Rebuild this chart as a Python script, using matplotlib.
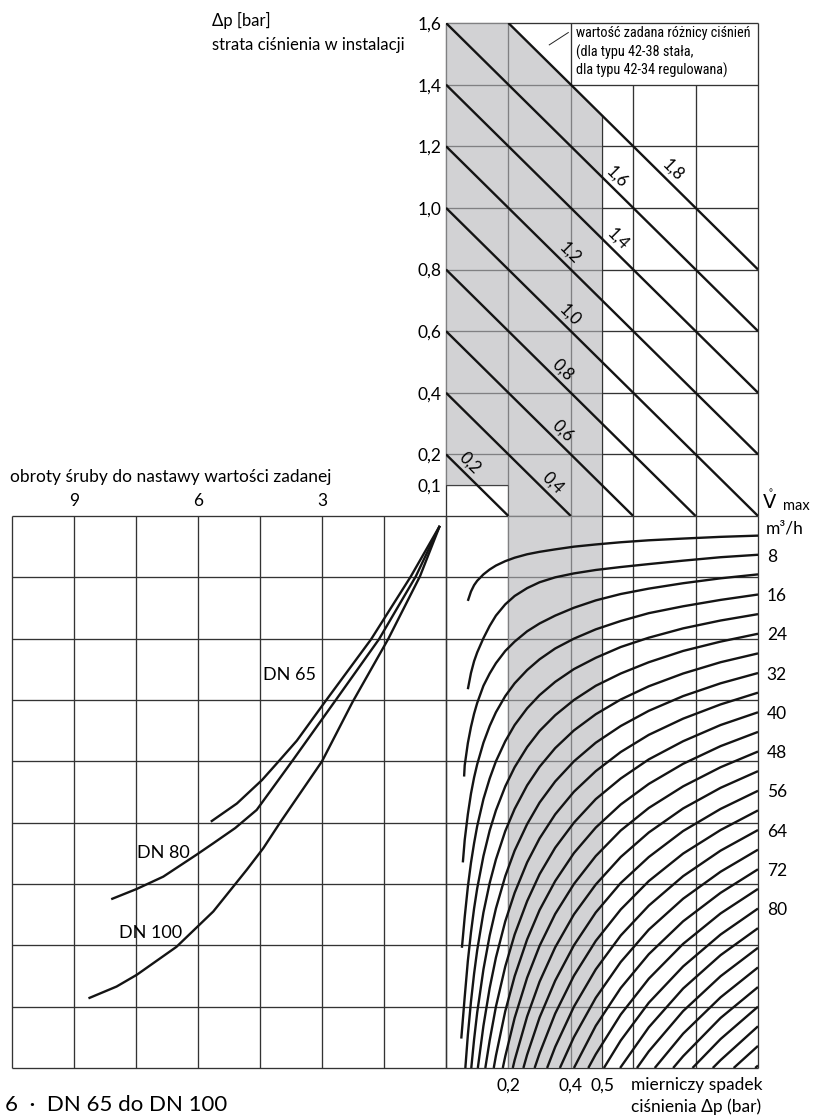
import matplotlib.pyplot as plt
from matplotlib import font_manager
from matplotlib.font_manager import FontProperties

plt.rcParams['font.family'] = ['Lato', 'DejaVu Sans']
plt.rcParams['mathtext.fontset'] = 'dejavusans'

# top panel: pressure loss in the installation [bar] vs metering drop [bar]
inst_ticks = [0.1, 0.2, 0.4, 0.6, 0.8, 1.0, 1.2, 1.4, 1.6]
inst_grid = [0.2, 0.4, 0.6, 0.8, 1.0, 1.2, 1.4]
setpoints = [0.2, 0.4, 0.6, 0.8, 1.0, 1.2, 1.4, 1.6, 1.8]
setpoint_label_dp = [0.052, 0.318, 0.35, 0.35, 0.372, 0.372, 0.526, 0.523, 0.703]
meter_grid = [0.0, 0.2, 0.4, 0.5, 0.6, 0.8, 1.0]
meter_ticks = [0.2, 0.4, 0.5]
shade_band = (0.2, 0.5)
shade_floor = 0.1

# lower right panel: flow curves V max [m3/h]
flow_q = [4, 8, 12, 16, 20, 24, 28, 32, 36, 40, 44, 48, 52, 56,
          60, 64, 68, 72, 76, 80, 84, 88, 92, 96, 100, 104, 108, 112]
flow_labels = [8, 16, 24, 32, 40, 48, 56, 64, 72, 80]
kv_grid = [0, 12.5, 25, 37.5, 50, 62.5, 75, 87.5, 100, 112.5]
dp_grid = [0.05, 0.06, 0.07, 0.08, 0.09, 0.10, 0.12, 0.14, 0.16, 0.19, 0.22,
           0.26, 0.30, 0.35, 0.41, 0.48, 0.56, 0.65, 0.76, 0.88, 1.00]
curve_start_dp = [0.07, 0.07, 0.058, 0.054, 0.051, 0.049, 0.062, 0.081, 0.102,
                  0.126, 0.153, 0.182, 0.214, 0.248, 0.284, 0.324, 0.365, 0.410,
                  0.456, 0.506, 0.558, 0.612, 0.669, 0.728, 0.790, 0.855, 0.922, 0.991]
curve_start_kv = [17.3, 35.3, 53.1, 70.6, 88.0, 106.5] + [112.5] * 22
# values at the last len(row) points of dp_grid
curve_kv = [
    [15.4, 14.1, 13.2, 11.9, 10.9, 10.1, 9.2, 8.5, 7.8, 7.3, 6.8, 6.25, 5.8, 5.35, 4.95, 4.6, 4.25, 4.0],
    [32.0, 29.6, 27.8, 24.9, 22.4, 20.3, 18.0, 16.3, 14.7, 13.5, 12.5, 11.7, 11.0, 10.4, 9.8, 9.1, 8.4, 7.9],
    [50.8, 46.3, 43.0, 40.3, 38.1, 34.6, 32.1, 30.0, 27.5, 25.6, 23.5, 21.9, 20.3, 18.7, 17.2, 15.9, 14.8, 13.7, 12.7, 11.9],
    [66.0, 60.8, 56.6, 53.3, 50.6, 46.2, 42.8, 40.0, 36.7, 34.1, 31.4, 29.2, 27.0, 25.0, 23.1, 21.4, 19.8, 18.4, 17.1, 16.0],
    [81.7, 75.6, 70.7, 66.7, 63.2, 57.7, 53.5, 50.0, 45.9, 42.6, 39.2, 36.5, 33.8, 31.2, 28.9, 26.7, 24.8, 22.9, 21.3, 20.0],
    [98.0, 90.7, 84.9, 80.0, 75.9, 69.3, 64.1, 60.0, 55.1, 51.2, 47.1, 43.8, 40.6, 37.5, 34.6, 32.1, 29.8, 27.5, 25.6, 24.0],
    [105.8, 99.0, 93.3, 88.5, 80.8, 74.8, 70.0, 64.2, 59.7, 54.9, 51.1, 47.3, 43.7, 40.4, 37.4, 34.7, 32.1, 29.8, 28.0],
    [106.7, 101.2, 92.4, 85.5, 80.0, 73.4, 68.2, 62.8, 58.4, 54.1, 50.0, 46.2, 42.8, 39.7, 36.7, 34.1, 32.0],
    [103.9, 96.2, 90.0, 82.6, 76.8, 70.6, 65.7, 60.8, 56.2, 52.0, 48.1, 44.6, 41.3, 38.4, 36.0],
    [106.9, 100.0, 91.8, 85.3, 78.5, 73.0, 67.6, 62.5, 57.7, 53.5, 49.6, 45.9, 42.6, 40.0],
    [110.0, 100.9, 93.8, 86.3, 80.3, 74.4, 68.7, 63.5, 58.8, 54.6, 50.5, 46.9, 44.0],
    [110.1, 102.3, 94.1, 87.6, 81.1, 75.0, 69.3, 64.1, 59.5, 55.1, 51.2, 48.0],
    [110.9, 102.0, 94.9, 87.9, 81.2, 75.1, 69.5, 64.5, 59.6, 55.4, 52.0],
    [109.8, 102.2, 94.7, 87.5, 80.8, 74.8, 69.5, 64.2, 59.7, 56.0],
    [109.5, 101.4, 93.7, 86.6, 80.2, 74.4, 68.8, 64.0, 60.0],
    [108.2, 100.0, 92.4, 85.5, 79.4, 73.4, 68.2, 64.0],
    [106.2, 98.2, 90.9, 84.3, 78.0, 72.5, 68.0],
    [103.9, 96.2, 89.3, 82.6, 76.8, 72.0],
    [109.7, 101.6, 94.3, 87.2, 81.0, 76.0],
    [106.9, 99.2, 91.8, 85.3, 80.0],
    [104.2, 96.3, 89.5, 84.0],
    [109.1, 100.9, 93.8, 88.0],
    [105.5, 98.1, 92.0],
    [110.1, 102.3, 96.0],
    [106.6, 100.0],
    [110.9, 104.0],
    [108.0],
    [112.0],
]

# lower left panel: screw turns for the setpoint
turn_grid = [0, 1.5, 3, 4.5, 6, 7.5, 9, 10.5]
turn_ticks = [9, 6, 3]
dn_names = ['DN 65', 'DN 80', 'DN 100']
dn_turns = [
    [0.15, 0.85, 1.81, 2.93, 3.61, 4.08, 4.45, 5.06, 5.69],
    [0.15, 0.73, 1.62, 2.70, 3.70, 4.58, 5.10, 5.63, 6.03, 6.84, 7.48, 8.10],
    [0.15, 0.63, 1.40, 2.26, 3.00, 4.00, 4.42, 4.82, 5.63, 6.52, 7.48, 7.97, 8.65],
]
dn_kv = [
    [2.0, 12.3, 25.1, 37.9, 45.8, 50.3, 53.8, 58.6, 62.3],
    [2.0, 12.3, 25.1, 37.9, 49.7, 59.9, 63.6, 66.7, 69.0, 73.5, 76.0, 78.1],
    [2.0, 12.3, 25.1, 37.9, 50.0, 62.3, 67.7, 72.1, 80.6, 87.8, 93.5, 95.9, 98.3],
]
dn_label_turns = [4.43, 7.48, 7.91]
dn_label_kv = [32.4, 68.7, 85.0]


def comma(v):
    return f'{v:.1f}'.replace('.', ',')


def narrow_font():
    # an upright condensed face for the note in the box, if one is installed
    for f in font_manager.fontManager.ttflist:
        if (f.name in ('Liberation Sans Narrow', 'Roboto Condensed',
                       'Open Sans Condensed')
                and f.style == 'normal' and f.weight in (400, 'normal', 'regular')):
            return FontProperties(fname=f.fname, size=10.3)
    for f in font_manager.fontManager.ttflist:
        if f.fname.endswith('DejaVuSansCondensed.ttf'):
            return FontProperties(fname=f.fname, size=9.0)
    return FontProperties(family=['Lato', 'DejaVu Sans'], size=9.0)


W, H = 813, 1117
fig = plt.figure(figsize=(W / 100, H / 100), dpi=100)


def rect(x0, y0, x1, y1):
    return [x0 / W, 1 - y1 / H, (x1 - x0) / W, (y1 - y0) / H]


ax_top = fig.add_axes(rect(446, 23, 758, 516))
ax_low = fig.add_axes(rect(446, 516, 758, 1068))
ax_left = fig.add_axes(rect(12, 516, 446, 1068))
for ax in (ax_top, ax_low, ax_left):
    for sp in ax.spines.values():
        sp.set_visible(False)
    ax.set_facecolor('none')

grid_kw = dict(color='#333333', lw=0.95, zorder=1, clip_on=False)
line_kw = dict(color='#141414', lw=1.7, zorder=3, solid_capstyle='butt')
shade_kw = dict(color='#b4b5b8', alpha=0.6, lw=0, zorder=2)
inst_max, meter_max = inst_ticks[-1], meter_grid[-1]
kv_max = kv_grid[-1]

# ---- top panel
ax_top.set_xlim(0, meter_max)
ax_top.set_ylim(0, inst_max)
ax_top.hlines(inst_grid, 0, meter_max, **grid_kw)
ax_top.hlines([inst_max], 0, meter_max, **grid_kw)
ax_top.hlines([shade_floor], 0, shade_band[0], **grid_kw)
top_cap = setpoints[-1] - shade_band[1]
for x in meter_grid:
    if x <= 0.4 or x == meter_max:
        ax_top.vlines(x, 0, inst_max, **grid_kw)
    elif x == shade_band[1]:
        ax_top.vlines(x, 0, top_cap, **grid_kw)
    else:
        ax_top.vlines(x, 0, inst_grid[-1], **grid_kw)

lo, hi = shade_band
ax_top.fill([0, 0, lo, hi, hi, lo, lo],
            [shade_floor, inst_max, inst_max, setpoints[-1] - hi, 0, 0, shade_floor],
            **shade_kw)

for s, xl in zip(setpoints, setpoint_label_dp):
    x0 = max(0, s - inst_max)
    x1 = min(meter_max, s)
    ax_top.plot([x0, x1], [s - x0, s - x1], **line_kw)
    ax_top.annotate(comma(s), xy=(xl, s - xl), xytext=(5.5, 5.5),
                    textcoords='offset points', rotation=-45,
                    rotation_mode='anchor', ha='center', va='center',
                    fontsize=12, zorder=4)

ax_top.set_xticks([])
ax_top.set_yticks(inst_ticks)
ax_top.set_yticklabels([comma(v) for v in inst_ticks])
ax_top.tick_params(axis='y', length=0, pad=3.5, labelsize=12.5)

box_fp = narrow_font()
box_lines = ['wartość zadana różnicy ciśnień', '(dla typu 42-38 stała,',
             'dla typu 42-34 regulowana)']
for txt, yy in zip(box_lines, [1.568, 1.506, 1.445]):
    ax_top.text(0.416, yy, txt, fontproperties=box_fp, va='center', ha='left')
ax_top.plot([0.331, 0.392], [1.529, 1.569], color='#222222', lw=0.7)

# ---- lower right panel
ax_low.set_xlim(0, meter_max)
ax_low.set_ylim(kv_max, 0)
ax_low.hlines(kv_grid, 0, meter_max, **grid_kw)
ax_low.vlines(meter_grid, 0, kv_max, **grid_kw)
ax_low.axvspan(lo, hi, **shade_kw)
for x0, y0, row in zip(curve_start_dp, curve_start_kv, curve_kv):
    xs = [x0] + dp_grid[len(dp_grid) - len(row):]
    ys = [y0] + row
    ax_low.plot(xs, ys, **line_kw)

ax_low.set_xticks(meter_ticks)
ax_low.set_xticklabels([comma(v) for v in meter_ticks])
ax_low.tick_params(axis='x', length=0, pad=7, labelsize=12.5)
ax_low.yaxis.tick_right()
ax_low.set_yticks(flow_labels)
ax_low.set_yticklabels([str(q) for q in flow_labels])
ax_low.tick_params(axis='y', length=0, pad=6.3, labelsize=12.5)

# ---- lower left panel
ax_left.set_xlim(turn_grid[-1], 0)
ax_left.set_ylim(kv_max, 0)
ax_left.hlines(kv_grid, 0, turn_grid[-1], **grid_kw)
ax_left.vlines(turn_grid, 0, kv_max, **grid_kw)
for t, k in zip(dn_turns, dn_kv):
    ax_left.plot(t, k, **line_kw)
for name, t, k in zip(dn_names, dn_label_turns, dn_label_kv):
    ax_left.text(t, k, name, fontsize=13, ha='left', va='center', zorder=4)
ax_left.xaxis.tick_top()
ax_left.set_xticks(turn_ticks)
ax_left.set_xticklabels([str(t) for t in turn_ticks])
ax_left.tick_params(axis='x', length=0, pad=5, labelsize=12.5)
ax_left.set_yticks([])

# ---- free texts
fig.text(212 / W, 1 - 20 / H, 'Δp [bar]', fontsize=12, va='center')
fig.text(212 / W, 1 - 45 / H, 'strata ciśnienia w instalacji', fontsize=12,
         va='center')
fig.text(10 / W, 1 - 477 / H, 'obroty śruby do nastawy wartości zadanej',
         fontsize=12.5, va='center')
fig.text(770 / W, 1 - 500 / H, r'$\mathring{\mathrm{V}}$', fontsize=14,
         ha='center', va='center')
fig.text(796 / W, 1 - 506 / H, 'max', fontsize=10.5, ha='center', va='center')
fig.text(766 / W, 1 - 528 / H, 'm³/h', fontsize=12.5, va='center')
fig.text(631 / W, 1 - 1085 / H, 'mierniczy spadek', fontsize=12.5, va='center')
fig.text(631 / W, 1 - 1107 / H, 'ciśnienia Δp (bar)', fontsize=12.5,
         va='center')
fig.text(5 / W, 1 - 1111 / H, '6  ·  DN 65 do DN 100', fontsize=16,
         va='baseline')

fig.savefig('out.png', dpi=100, facecolor='white')
